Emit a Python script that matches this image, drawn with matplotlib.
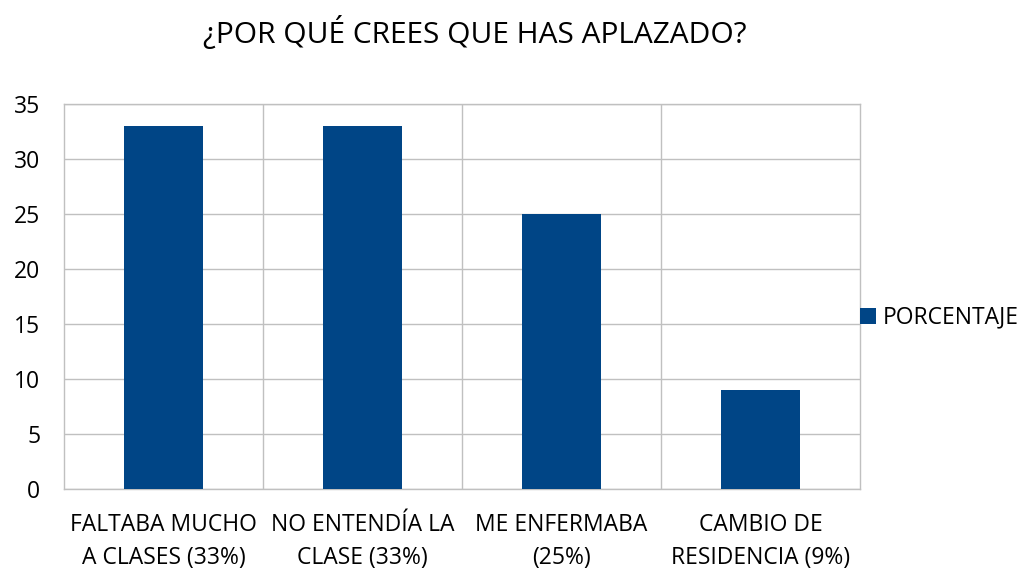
import matplotlib
matplotlib.use("Agg")
import matplotlib.pyplot as plt
import numpy as np

categories = ["FALTABA MUCHO\nA CLASES (33%)", "NO ENTENDÍA LA\nCLASE (33%)",
              "ME ENFERMABA\n(25%)", "CAMBIO DE\nRESIDENCIA (9%)"]
porcentaje = [33, 33, 25, 9]
title = "¿POR QUÉ CREES QUE HAS APLAZADO?"

plt.rcParams['font.family'] = ['Open Sans', 'DejaVu Sans']

fig = plt.figure(figsize=(10.27, 5.69), dpi=100)
ax = fig.add_axes([64/1027, 1 - 489/569, (860 - 64)/1027, (489 - 104)/569])

x = np.arange(len(categories))
ax.bar(x, porcentaje, width=0.4, color="#004586", label="PORCENTAJE", zorder=3)

ax.set_xlim(-0.5, len(categories) - 0.5)
ax.set_ylim(0, 35)
ax.set_yticks(range(0, 36, 5))
ax.set_xticks(x)
ax.set_xticklabels(categories, fontsize=16.5, linespacing=1.5)
ax.tick_params(axis='y', labelsize=16.5, length=0, pad=17)
ax.tick_params(axis='x', length=0, pad=17)

# grid: horizontal at ticks, vertical at category boundaries
ax.yaxis.grid(True, color="#c0c0c0", linewidth=1, zorder=0)
ax.set_xticks(np.arange(0.5, len(categories) - 0.5), minor=True)
ax.tick_params(axis='x', which='minor', length=0)
ax.xaxis.grid(True, which='minor', color="#c0c0c0", linewidth=1, zorder=0)
for s in ax.spines.values():
    s.set_color("#c0c0c0")
    s.set_linewidth(1)
ax.set_axisbelow(True)

fig.text(475/1027, 1 - 33/569, title, ha='center', va='center', fontsize=21.5)

ax.legend(loc='center left', bbox_to_anchor=(1.0, 0.445), frameon=False,
          fontsize=16.5, handlelength=0.7, handleheight=0.7, handletextpad=0.3,
          borderaxespad=0.0, borderpad=0.0)

fig.savefig("out.png", dpi=100)
